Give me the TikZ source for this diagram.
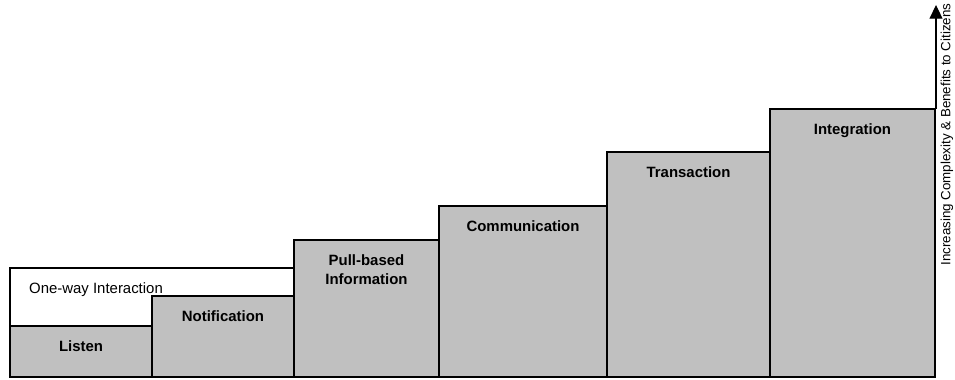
\documentclass[tikz,border=0pt]{standalone}
\usepackage{fontspec}
\setmainfont{Liberation Sans}
\usepackage{xcolor}
\usetikzlibrary{arrows.meta}

\definecolor{stepgray}{HTML}{C0C0C0}

\begin{document}
\begin{tikzpicture}[x=0.02cm, y=0.02cm]
\useasboundingbox (0,0) rectangle (955,379);
\fill[white] (0,0) rectangle (955,379);

\draw[line width=1.1pt] (10,2) rectangle (294,111);
\node[anchor=west, font=\fontsize{8.5}{10}\selectfont] (oneway) at (23,89) {One-way Interaction};

\foreach \xa/\xb/\ytop/\lbl [count=\i] in {10/152/53/Listen, 152/294/83/Notification, 294/439/139/{Pull-based\\Information}, 439/607/173/Communication, 607/770/227/Transaction, 770/935/270/Integration}
{
  \draw[line width=1.1pt, fill=stepgray] (\xa,2) rectangle (\xb,\ytop);
  \node[anchor=north, inner sep=0pt, align=center, font=\fontsize{8.5}{10.8}\selectfont\bfseries] (stage\i) at ({(\xa+\xb)/2},\ytop-14) {\lbl};
}

\coordinate (axisbase) at (936,270);
\coordinate (axistip) at (936,374);
\draw[line width=0.6pt, -{Triangle[width=7.4pt, length=7.8pt]}] (axisbase) -- (axistip);

\node[rotate=90, inner sep=0pt, font=\fontsize{7.6}{9}\selectfont] (axislabel) at (947,244.5) {Increasing Complexity \& Benefits to Citizens};
\end{tikzpicture}
\end{document}
